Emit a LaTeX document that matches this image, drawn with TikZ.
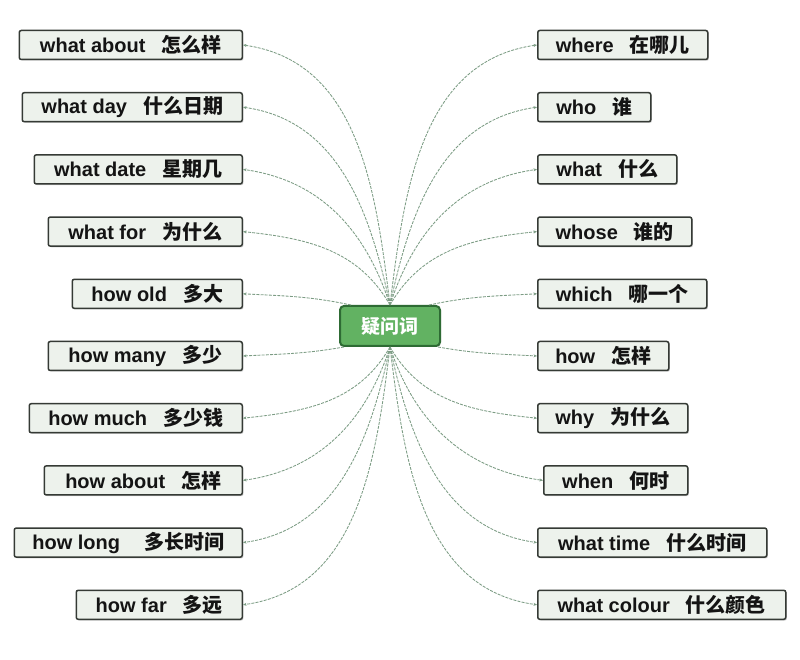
\documentclass[tikz,border=0pt]{standalone}
\usepackage{fontspec}
\setmainfont{Liberation Sans}
\newfontfamily\cjk{Noto Sans CJK SC}
\usetikzlibrary{arrows.meta,shadows}
\definecolor{boxfill}{HTML}{EDF2EC}
\definecolor{boxline}{HTML}{353A35}
\definecolor{hubfill}{HTML}{62B262}
\definecolor{hubline}{HTML}{2E6B34}
\definecolor{linkc}{HTML}{7C9C84}
\newcommand\bx[2]{#1\hspace{16pt}{\cjk #2}}
\begin{document}
\begin{tikzpicture}[x=1pt,y=1pt,
  item/.style={draw=boxline, line width=1.5pt, fill=boxfill, rounded corners=2pt,
    minimum height=29pt, inner sep=0pt, text=black!92,
    font=\fontsize{20}{20}\selectfont\bfseries,
    drop shadow={shadow xshift=1.2pt, shadow yshift=-1.2pt, fill=black!30, opacity=0.6}},
  litem/.style={item, anchor=east},
  ritem/.style={item, anchor=west},
  hub/.style={draw=hubline, line width=2pt, fill=hubfill, rounded corners=4pt,
    minimum width=100pt, minimum height=40pt, inner sep=0pt, text=white,
    font=\fontsize{19}{19}\selectfont\cjk\bfseries,
    drop shadow={shadow xshift=1pt, shadow yshift=-1pt, fill=black!30, opacity=0.5}},
  link/.style={draw=linkc, line width=0.85pt, dash pattern=on 3pt off 1.2pt,
    -{Stealth[length=3.5pt,width=3pt]}},
]
\useasboundingbox[fill=white] (0,0) rectangle (800,659);

\node[hub] (hub) at (390,333) {疑问词};

% left column
\node[litem, minimum width=223pt] (L0) at (243,614)   {\bx{what about}{怎么样}};
\node[litem, minimum width=220pt] (L1) at (243,551.8) {\bx{what day}{什么日期}};
\node[litem, minimum width=208pt] (L2) at (243,489.6) {\bx{what date}{星期几}};
\node[litem, minimum width=194pt] (L3) at (243,427.4) {\bx{what for}{为什么}};
\node[litem, minimum width=170pt] (L4) at (243,365.2) {\bx{how old}{多大}};
\node[litem, minimum width=194pt] (L5) at (243,303)   {\bx{how many}{多少}};
\node[litem, minimum width=213pt] (L6) at (243,240.8) {\bx{how much}{多少钱}};
\node[litem, minimum width=198pt] (L7) at (243,178.6) {\bx{how about}{怎样}};
\node[litem, minimum width=228pt] (L8) at (243,116.4) {how long\hspace{24pt}{\cjk 多长时间}};
\node[litem, minimum width=166pt] (L9) at (243,54.2)  {\bx{how far}{多远}};

% right column
\node[ritem, minimum width=170pt] (R0) at (537,614)   {\bx{where}{在哪儿}};
\node[ritem, minimum width=113pt] (R1) at (537,551.8) {\bx{who}{谁}};
\node[ritem, minimum width=139pt] (R2) at (537,489.6) {\bx{what}{什么}};
\node[ritem, minimum width=154pt] (R3) at (537,427.4) {\bx{whose}{谁的}};
\node[ritem, minimum width=169pt] (R4) at (537,365.2) {\bx{which}{哪一个}};
\node[ritem, minimum width=131pt] (R5) at (537,303)   {\bx{how}{怎样}};
\node[ritem, minimum width=150pt] (R6) at (537,240.8) {\bx{why}{为什么}};
\node[ritem, minimum width=144pt] (R7) at (543,178.6) {\bx{when}{何时}};
\node[ritem, minimum width=229pt] (R8) at (537,116.4) {\bx{what time}{什么时间}};
\node[ritem, minimum width=248pt] (R9) at (537,54.2)  {\bx{what colour}{什么颜色}};

% connectors, left
\draw[link] (hub.north) to[out=97,in=-8]  (L0.east);
\draw[link] (hub.north) to[out=102,in=-8] (L1.east);
\draw[link] (hub.north) to[out=108,in=-8] (L2.east);
\draw[link] (hub.north) to[out=120,in=-6] (L3.east);
\draw[link] ([xshift=12pt]hub.north west) to[out=168,in=-3] (L4.east);
\draw[link] ([xshift=5pt]hub.south west) to[out=190,in=3] (L5.east);
\draw[link] (hub.south) to[out=-120,in=6] (L6.east);
\draw[link] (hub.south) to[out=-108,in=8] (L7.east);
\draw[link] (hub.south) to[out=-102,in=8] (L8.east);
\draw[link] (hub.south) to[out=-97,in=8]  (L9.east);

% connectors, right
\draw[link] (hub.north) to[out=83,in=188]  (R0.west);
\draw[link] (hub.north) to[out=78,in=188]  (R1.west);
\draw[link] (hub.north) to[out=72,in=188]  (R2.west);
\draw[link] (hub.north) to[out=60,in=186]  (R3.west);
\draw[link] ([xshift=-12pt]hub.north east) to[out=12,in=183] (R4.west);
\draw[link] ([xshift=-3pt]hub.south east) to[out=-10,in=177] (R5.west);
\draw[link] (hub.south) to[out=-60,in=174] (R6.west);
\draw[link] (hub.south) to[out=-72,in=172] (R7.west);
\draw[link] (hub.south) to[out=-78,in=172] (R8.west);
\draw[link] (hub.south) to[out=-83,in=172] (R9.west);
\end{tikzpicture}
\end{document}
